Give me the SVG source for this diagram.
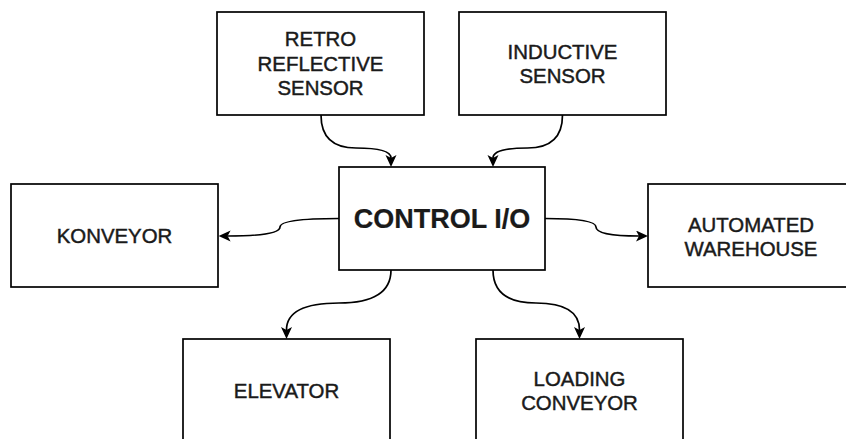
<svg xmlns="http://www.w3.org/2000/svg" width="846" height="439" viewBox="0 0 846 439">
<style>
.box{fill:#fff;stroke:#000;stroke-width:1.7}
.t{font-family:"Liberation Sans",Arial,sans-serif;font-size:20.4px;fill:#1a1a1a;stroke:#1a1a1a;stroke-width:0.45;text-anchor:middle}
.big{font-size:27px;font-weight:bold;stroke-width:0.2}
.edge{fill:none;stroke:#000;stroke-width:1.7;marker-end:url(#arr)}
</style>
<defs>
<marker id="arr" markerUnits="userSpaceOnUse" markerWidth="14" markerHeight="12" refX="3" refY="5.5" orient="auto">
<path d="M0,0 L12,5.5 L0,11 L3,5.5 Z" fill="#000"/>
</marker>
</defs>
<rect width="846" height="439" fill="#fff"/>
<g id="connectors">
<path class="edge" d="M321,115 Q321,148 356,148 Q391,148 391,158"/>
<path class="edge" d="M562.5,115 Q562.5,148 527.5,148 Q493,148 493,158"/>
<path class="edge" d="M339,218.5 Q280,218.5 280,227 Q280,236 227.6,236"/>
<path class="edge" d="M545,218.5 Q596,218.5 596,227 Q596,236 639,236"/>
<path class="edge" d="M391,270 Q391,303 339,303 Q286.5,303 286.5,330"/>
<path class="edge" d="M493,270 Q493,303 536,303 Q579.5,303 579.5,330"/>
</g>
<g id="retro">
<rect class="box" x="217" y="12" width="207" height="103"/>
<text class="t" x="320.5" y="46">RETRO</text>
<text class="t" x="320.5" y="71">REFLECTIVE</text>
<text class="t" x="320.5" y="95">SENSOR</text>
</g>
<g id="inductive">
<rect class="box" x="459" y="12" width="207" height="103"/>
<text class="t" x="562.5" y="59">INDUCTIVE</text>
<text class="t" x="562.5" y="83">SENSOR</text>
</g>
<g id="control">
<rect class="box" x="339" y="167" width="206" height="103"/>
<text class="t big" x="442" y="228">CONTROL I/O</text>
</g>
<g id="konveyor">
<rect class="box" x="11" y="184" width="207" height="103"/>
<text class="t" x="114.5" y="243">KONVEYOR</text>
</g>
<g id="warehouse">
<rect class="box" x="648" y="184" width="207" height="103"/>
<text class="t" x="751" y="231.5">AUTOMATED</text>
<text class="t" x="751" y="255.5">WAREHOUSE</text>
</g>
<g id="elevator">
<rect class="box" x="183" y="339" width="207" height="103"/>
<text class="t" x="286.5" y="398">ELEVATOR</text>
</g>
<g id="loading">
<rect class="box" x="476" y="339" width="207" height="103"/>
<text class="t" x="579.5" y="386">LOADING</text>
<text class="t" x="579.5" y="410">CONVEYOR</text>
</g>
</svg>
